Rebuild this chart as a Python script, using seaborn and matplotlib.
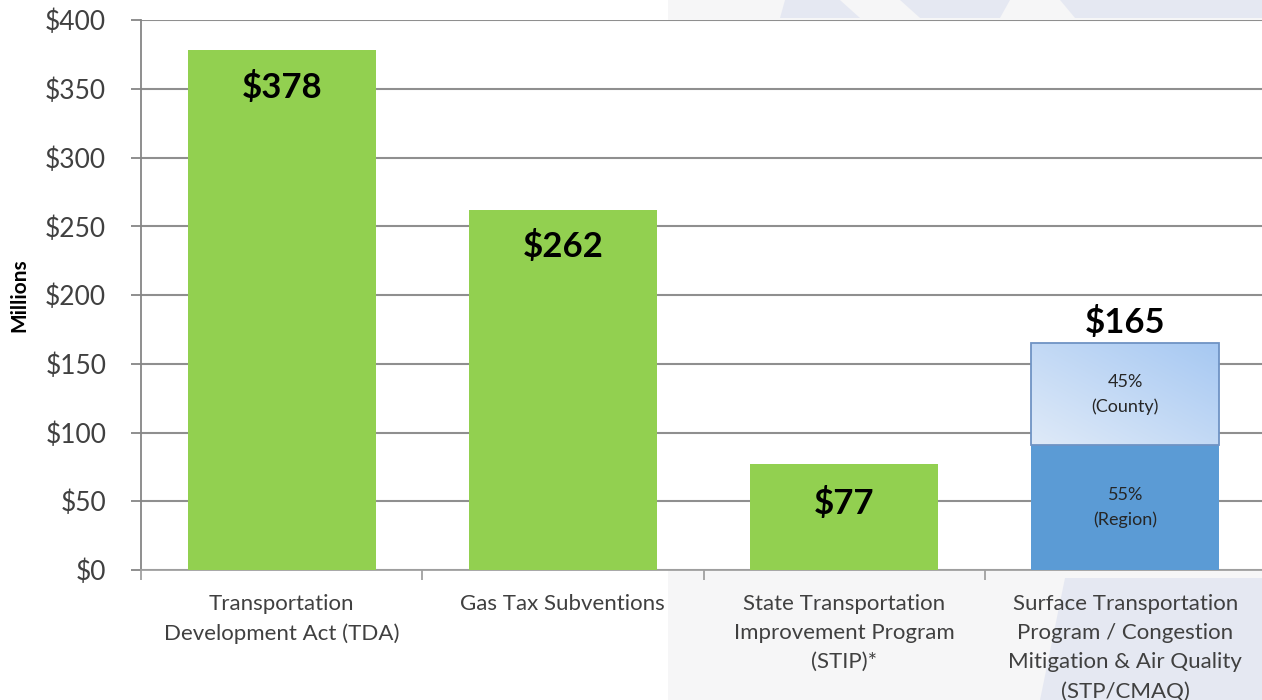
import numpy as np
import pandas as pd
import matplotlib
matplotlib.use("Agg")
import matplotlib.pyplot as plt
from matplotlib.patches import Rectangle, Polygon
from matplotlib.ticker import FuncFormatter, FixedLocator
import seaborn as sns

# Annual revenue by source ($ millions)
categories = [
    "Transportation\nDevelopment Act (TDA)",
    "Gas Tax Subventions",
    "State Transportation\nImprovement Program\n(STIP)*",
    "Surface Transportation\nProgram / Congestion\nMitigation & Air Quality\n(STP/CMAQ)",
]
totals = [378, 262, 77, 165]
stp_shares = [0.55, 0.45]          # region, county
stp_share_labels = ["55%\n(Region)", "45%\n(County)"]
value_labels = ["$378", "$262", "$77", "$165"]
y_ticks = [0, 50, 100, 150, 200, 250, 300, 350, 400]

GREEN = "#92D050"
BLUE = "#5B9BD5"
TEXT = "#404040"
GRID = "#8f8f8f"

sns.set_theme(style="white")
plt.rcParams["font.family"] = ["Lato", "DejaVu Sans"]

W, H = 1262, 700
fig = plt.figure(figsize=(W / 100, H / 100), dpi=100)
fig.patch.set_facecolor("white")

# light backdrop panel on the right half
fig.patches.append(Rectangle((668 / W, 0), 1 - 668 / W, 1, transform=fig.transFigure,
                             facecolor="#f6f6f7", edgecolor="none", zorder=-3))
# faint map shapes peeking out around the plot area
for pts in [
    [(1040, 700), (1065, 578), (1262, 578), (1262, 700)],
    [(785, 0), (840, 0), (860, 18), (780, 18)],
    [(900, 0), (1010, 0), (1000, 18), (920, 18)],
    [(1060, 0), (1262, 0), (1262, 18), (1075, 18)],
]:
    fig.patches.append(Polygon([(x / W, 1 - y / H) for x, y in pts], closed=True,
                               transform=fig.transFigure, facecolor="#e4e7f2",
                               edgecolor="none", alpha=0.9, zorder=-2))

ax = fig.add_axes([141 / W, 130 / H, 1125 / W, 550 / H])
ax.set_facecolor("white")

region_val = totals[3] * stp_shares[0]
county_val = totals[3] * stp_shares[1]

df = pd.DataFrame({
    "category": categories,
    "base": totals[:3] + [region_val],
})

bar_w = 0.668
sns.barplot(data=df, x="category", y="base", hue="category",
            palette=[GREEN, GREEN, GREEN, BLUE], legend=False,
            width=bar_w, saturation=1, ax=ax, zorder=3,
            edgecolor="none", linewidth=0)

# county share stacked on top, with a soft diagonal gradient fill
x3 = 3
top_bar = ax.bar(x3, county_val, bottom=region_val, width=bar_w,
                 facecolor="none", edgecolor="#6f93c4", linewidth=1.3, zorder=5)[0]
gx, gy = np.meshgrid(np.linspace(0, 1, 200), np.linspace(0, 1, 200))
grad = (gx + gy) / 2
cmap = matplotlib.colors.LinearSegmentedColormap.from_list("cty", ["#dfeaf8", "#a6c8f2"])
im = ax.imshow(grad, cmap=cmap, origin="lower", aspect="auto",
               extent=[x3 - bar_w / 2, x3 + bar_w / 2, region_val, totals[3]],
               zorder=4, interpolation="bilinear")
im.set_clip_path(top_bar)

# axis styling
ax.set_xlim(-0.5, 3.5)
ax.set_ylim(0, 400)
ax.yaxis.set_major_locator(FixedLocator(y_ticks))
ax.yaxis.set_major_formatter(FuncFormatter(lambda v, p: f"${v:.0f}"))
ax.grid(axis="y", color=GRID, linewidth=1.5, zorder=0)
ax.set_axisbelow(True)
for side in ["top", "right"]:
    ax.spines[side].set_visible(False)
ax.spines["left"].set_color("#868686")
ax.spines["left"].set_linewidth(1.3)
ax.spines["bottom"].set_color("#a0a0a0")
ax.spines["bottom"].set_linewidth(1.3)

ax.tick_params(axis="y", which="major", direction="out", length=7, width=1.3,
               color="#868686", labelsize=19, labelcolor=TEXT, pad=18, left=True)
ax.set_xticks(range(4))
ax.set_xticklabels(categories, fontsize=16, color=TEXT, linespacing=1.58, va="top")
ax.tick_params(axis="x", which="major", length=0, pad=17)
ax.set_xticks([-0.5, 0.5, 1.5, 2.5, 3.5], minor=True)
ax.tick_params(axis="x", which="minor", direction="out", length=7, width=1.3,
               color="#a0a0a0", bottom=True)

ax.set_xlabel("")
ax.set_ylabel("Millions", fontsize=15, fontweight="bold", color="black")
ax.yaxis.set_label_coords(-0.0996, 0.5)

# value labels
label_offsets = [-27, -27, -29, None]
for i, (v, lab) in enumerate(zip(totals, value_labels)):
    if i < 3:
        ax.text(i, v + label_offsets[i], lab, ha="center", va="center",
                fontsize=25, fontweight="bold", color="black", zorder=6)
    else:
        ax.text(i, v + 3, lab, ha="center", va="bottom",
                fontsize=25, fontweight="bold", color="black", zorder=6)

# share labels inside the stacked bar
ax.text(x3, region_val / 2, stp_share_labels[0], ha="center", va="center",
        fontsize=13, color="#262626", linespacing=1.6, zorder=6)
ax.text(x3, region_val + county_val / 2, stp_share_labels[1], ha="center", va="center",
        fontsize=13, color="#262626", linespacing=1.6, zorder=6)

fig.savefig("out.png", dpi=100)
